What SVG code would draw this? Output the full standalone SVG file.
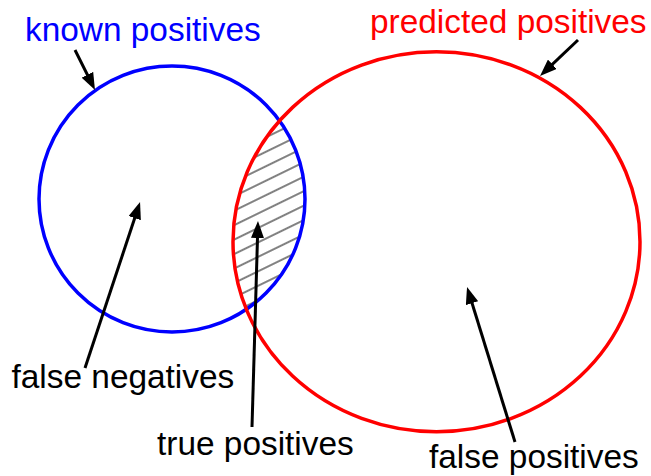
<svg xmlns="http://www.w3.org/2000/svg" width="651" height="476" viewBox="0 0 651 476">
  <style>
    .lbl { font-family: "Liberation Sans", Arial, sans-serif; font-size: 33.4px; }
    .arrow { stroke: #000; stroke-width: 3; fill: none; marker-end: url(#head); }
    .set { fill: none; stroke-width: 3.5; }
  </style>
  <defs>
    <marker id="head" markerUnits="userSpaceOnUse" viewBox="0 0 17 13" refX="7" refY="6.5" markerWidth="17" markerHeight="13" orient="auto">
      <path d="M0,0 L17,6.5 L0,13 z" fill="#000"/>
    </marker>
    <pattern id="hatch" patternUnits="userSpaceOnUse" width="20" height="13" patternTransform="rotate(-26)">
      <line x1="0" y1="6" x2="20" y2="6" stroke="#1a1a1a" stroke-width="1.1"/>
    </pattern>
    <clipPath id="clipRed">
      <ellipse cx="436.5" cy="241.7" rx="203.5" ry="190"/>
    </clipPath>
  </defs>
  <rect width="651" height="476" fill="#fff"/>

  <g id="true-positives-area">
    <ellipse cx="172" cy="199" rx="133" ry="133" fill="url(#hatch)" clip-path="url(#clipRed)"/>
  </g>

  <g id="known-positives">
    <ellipse class="set" cx="172" cy="199" rx="133" ry="133" stroke="#0000ff"/>
    <text class="lbl" x="25" y="41" fill="#0000ff">known positives</text>
  </g>

  <g id="predicted-positives">
    <ellipse class="set" cx="436.5" cy="241.7" rx="203.5" ry="190" stroke="#ff0000"/>
    <text class="lbl" x="370" y="33" fill="#ff0000">predicted positives</text>
  </g>

  <g id="false-negatives">
    <text class="lbl" x="11.5" y="388" fill="#000">false negatives</text>
  </g>

  <g id="true-positives">
    <text class="lbl" x="157" y="455" fill="#000">true positives</text>
  </g>

  <g id="false-positives">
    <text class="lbl" x="429" y="468" fill="#000">false positives</text>
  </g>

  <g id="connectors">
    <line class="arrow" x1="75" y1="50" x2="90.5" y2="81"/>
    <line class="arrow" x1="578" y1="40" x2="547.3" y2="69.1"/>
    <line class="arrow" x1="85" y1="368" x2="136.9" y2="211.5"/>
    <line class="arrow" x1="252" y1="427" x2="257.7" y2="231"/>
    <line class="arrow" x1="515" y1="442" x2="470" y2="296.5"/>
  </g>
</svg>
